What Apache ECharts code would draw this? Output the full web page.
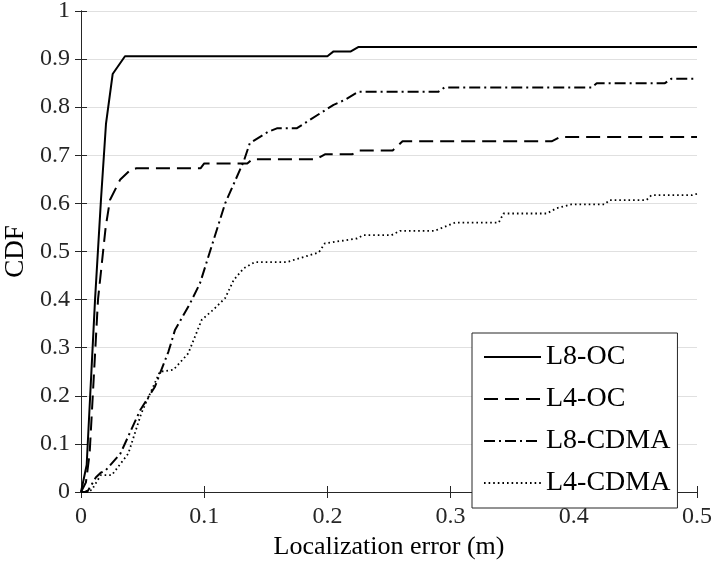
<!DOCTYPE html>
<html>
<head>
<meta charset="utf-8">
<script src="https://cdn.jsdelivr.net/npm/echarts@6/dist/echarts.min.js"></script>
<style>html,body{margin:0;padding:0;background:#fff}#c{width:712px;height:567px}</style>
</head>
<body>
<div id="c"></div>
<script>
var seriesNames = ['L8-OC', 'L4-OC', 'L8-CDMA', 'L4-CDMA'];
var xTicks = [0, 0.1, 0.2, 0.3, 0.4, 0.5];
var yTicks = [0, 0.1, 0.2, 0.3, 0.4, 0.5, 0.6, 0.7, 0.8, 0.9, 1];

var l8oc = [[0,0],[0.0046,0.056],[0.0114,0.40],[0.0162,0.607],[0.0203,0.766],[0.0257,0.869],[0.0357,0.906],
  [0.200,0.906],[0.205,0.916],[0.219,0.916],[0.225,0.925],[0.5,0.925]];
var l4oc = [[0,0],[0.004,0.02],[0.007,0.08],[0.0138,0.40],[0.020,0.55],[0.0235,0.607],[0.0317,0.649],
  [0.0398,0.669],[0.045,0.673],[0.097,0.673],[0.100,0.683],[0.135,0.683],[0.139,0.692],[0.191,0.692],
  [0.198,0.702],[0.220,0.702],[0.226,0.710],[0.253,0.710],[0.261,0.729],[0.382,0.729],[0.389,0.738],[0.5,0.738]];
var l8cdma = [[0,0],[0.005,0],[0.012,0.03],[0.016,0.04],[0.020,0.045],[0.032,0.08],[0.048,0.17],[0.060,0.219],
  [0.071,0.292],[0.0763,0.337],[0.0885,0.392],[0.0966,0.434],[0.117,0.600],[0.132,0.687],[0.137,0.725],
  [0.152,0.749],[0.159,0.756],[0.175,0.756],[0.205,0.805],[0.214,0.815],[0.225,0.832],[0.290,0.832],
  [0.295,0.841],[0.4145,0.841],[0.4186,0.850],[0.474,0.850],[0.479,0.859],[0.5,0.859]];
var l4cdma = [[0,0],[0.0087,0.004],[0.016,0.035],[0.025,0.035],[0.0384,0.08],[0.049,0.164],[0.064,0.25],
  [0.075,0.254],[0.087,0.288],[0.098,0.358],[0.107,0.378],[0.117,0.403],[0.124,0.441],[0.132,0.465],
  [0.141,0.478],[0.167,0.478],[0.193,0.498],[0.198,0.517],[0.224,0.527],[0.229,0.534],[0.252,0.534],
  [0.259,0.543],[0.287,0.543],[0.3036,0.560],[0.339,0.560],[0.343,0.579],[0.378,0.579],[0.386,0.590],
  [0.398,0.598],[0.425,0.598],[0.429,0.607],[0.459,0.607],[0.463,0.617],[0.496,0.617],[0.5,0.62]];

var FONT = 'Liberation Serif';
var AX = '#262626';
var chart = echarts.init(document.getElementById('c'));

function mkSeries(name, data, dash, width) {
  return {
    name: name, type: 'line', data: data, symbol: 'none', animation: false,
    lineStyle: { color: '#000', width: width, type: dash, cap: 'butt' },
    itemStyle: { color: '#000' }
  };
}

var baseAxis = {
  axisLine: { show: true, lineStyle: { color: AX, width: 1 } },
  axisTick: { show: true, inside: true, length: 6, lineStyle: { color: AX } }
};

chart.setOption({
  backgroundColor: '#fff',
  animation: false,
  grid: { left: 81, right: 15, top: 11, bottom: 75, containLabel: false, outerBoundsMode: 'none' },
  legend: {
    data: seriesNames, orient: 'vertical', left: 472, top: 333,
    padding: [10, 7, 11, 11], itemWidth: 57, itemHeight: 20, itemGap: 14,
    backgroundColor: '#fff', borderColor: AX, borderWidth: 1, borderRadius: 0,
    itemStyle: { opacity: 0 },
    textStyle: { fontFamily: FONT, fontSize: 28, color: '#000' }
  },
  xAxis: [
    Object.assign({}, baseAxis, {
      type: 'value', min: 0, max: 0.5, interval: 0.1, position: 'bottom',
      name: 'Localization error (m)', nameLocation: 'middle', nameGap: 40,
      nameTextStyle: { fontFamily: FONT, fontSize: 26, color: '#000' },
      axisLabel: { fontFamily: FONT, fontSize: 24, color: AX, margin: 13,
        formatter: function (v) { return xTicks.indexOf(+v.toFixed(2)) >= 0 ? String(+v.toFixed(2)) : ''; } },
      splitLine: { show: false }
    }),
    Object.assign({}, baseAxis, {
      type: 'value', min: 0, max: 0.5, interval: 0.1, position: 'top',
      axisLabel: { show: false }, splitLine: { show: false }
    })
  ],
  yAxis: [
    Object.assign({}, baseAxis, {
      type: 'value', min: 0, max: 1, interval: 0.1, position: 'left',
      name: 'CDF', nameLocation: 'middle', nameGap: 44,
      nameTextStyle: { fontFamily: FONT, fontSize: 27, color: '#000' },
      axisLabel: { fontFamily: FONT, fontSize: 24, color: AX, margin: 11,
        formatter: function (v) { var r = +v.toFixed(2); return yTicks.indexOf(r) >= 0 ? String(r) : ''; } },
      splitLine: { show: true, lineStyle: { color: '#e0e0e0', width: 1 } }
    }),
    Object.assign({}, baseAxis, {
      type: 'value', min: 0, max: 1, interval: 0.1, position: 'right',
      axisLabel: { show: false }, splitLine: { show: false }
    })
  ],
  series: [
    mkSeries(seriesNames[0], l8oc, 'solid', 2),
    mkSeries(seriesNames[1], l4oc, [14, 7], 2),
    mkSeries(seriesNames[2], l8cdma, [11, 4, 2, 4], 2),
    mkSeries(seriesNames[3], l4cdma, [1.6, 3], 1.8)
  ]
});
</script>
</body>
</html>
